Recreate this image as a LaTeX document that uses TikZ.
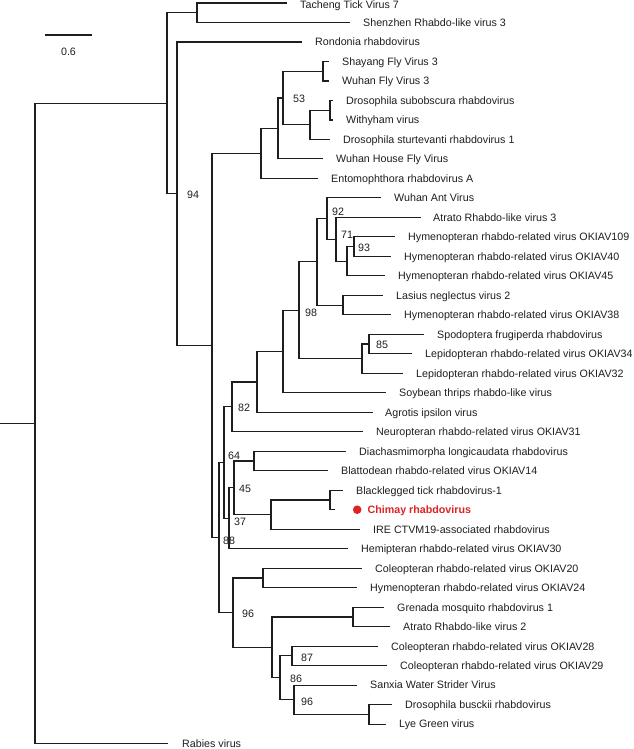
\documentclass[tikz,border=0pt]{standalone}
\usepackage{fontspec}
\setmainfont{Liberation Sans}
\usepackage{xcolor}
\usepackage{tikz}
\usetikzlibrary{positioning}
\definecolor{inkline}{RGB}{30, 30, 30}
\definecolor{chimayred}{RGB}{220, 36, 36}
\tikzset{
    br/.style   ={draw=inkline, line width=1.1pt},
    leaf/.style ={anchor=west, inner sep=0pt, text=inkline,
                  font=\fontsize{10.7}{12}\selectfont,
                  text height=7.7pt, text depth=0pt},
    hl/.style   ={leaf, text=chimayred,
                  font=\fontsize{10.7}{12}\selectfont\bfseries},
    boot/.style ={inner sep=0pt, text=inkline,
                  font=\fontsize{10.7}{12}\selectfont,
                  text height=7.7pt, text depth=0pt},
    cdot/.style ={circle, fill=chimayred, inner sep=0pt, minimum size=8.6pt}
}

\begin{document}
\begin{tikzpicture}[x=1pt, y=-1pt]
  \useasboundingbox (0,0) rectangle (633,749);

  % scale bar
  \coordinate (sb1) at (45,35);
  \coordinate (sb2) at (92,35);
  \draw[br] (sb1) -- (sb2);
  \node[boot] (sblab) at (68.5,52) {0.6};

  % branch tips
  \coordinate (tach)  at (287,3);
  \coordinate (shen)  at (350,22.5);
  \coordinate (rond)  at (302,42);
  \coordinate (shay)  at (329,61.5);
  \coordinate (wfv)   at (329,81);
  \coordinate (subo)  at (333,100.5);
  \coordinate (withy) at (333,120);
  \coordinate (stur)  at (330,139.4);
  \coordinate (whfv)  at (323,158.9);
  \coordinate (ento)  at (318,178.4);
  \coordinate (want)  at (381,197.9);
  \coordinate (atr3)  at (421,217.4);
  \coordinate (ok109) at (395,236.9);
  \coordinate (ok40)  at (391,256.4);
  \coordinate (ok45)  at (385,275.9);
  \coordinate (lasi)  at (383,295.4);
  \coordinate (ok38)  at (391,314.8);
  \coordinate (spod)  at (424,334.3);
  \coordinate (ok34)  at (412,353.8);
  \coordinate (ok32)  at (403,373.3);
  \coordinate (soyb)  at (386,392.8);
  \coordinate (agro)  at (373,412.3);
  \coordinate (neur)  at (363,431.8);
  \coordinate (diac)  at (346,451.3);
  \coordinate (blat)  at (328,470.7);
  \coordinate (blck)  at (343,490.2);
  \coordinate (chim)  at (335,509.7);
  \coordinate (ire)   at (360,529.2);
  \coordinate (hemi)  at (348,548.7);
  \coordinate (ok20)  at (362,568.2);
  \coordinate (ok24)  at (357,587.7);
  \coordinate (gren)  at (384,607.2);
  \coordinate (atr2)  at (390,626.7);
  \coordinate (ok28)  at (378,646.2);
  \coordinate (ok29)  at (387,665.6);
  \coordinate (sanx)  at (357,685.1);
  \coordinate (busc)  at (392,704.6);
  \coordinate (lye)   at (386,724.1);
  \coordinate (rab)   at (168,743.6);

  % taxon names
  \node[leaf, right=13pt of tach, yshift=-1.3pt] (ltach) {Tacheng Tick Virus 7};
  \node[leaf, right=13pt of shen]  (lshen)  {Shenzhen Rhabdo-like virus 3};
  \node[leaf, right=13pt of rond]  (lrond)  {Rondonia rhabdovirus};
  \node[leaf, right=13pt of shay]  (lshay)  {Shayang Fly Virus 3};
  \node[leaf, right=13pt of wfv]   (lwfv)   {Wuhan Fly Virus 3};
  \node[leaf, right=13pt of subo]  (lsubo)  {Drosophila subobscura rhabdovirus};
  \node[leaf, right=13pt of withy] (lwithy) {Withyham virus};
  \node[leaf, right=13pt of stur]  (lstur)  {Drosophila sturtevanti rhabdovirus 1};
  \node[leaf, right=13pt of whfv]  (lwhfv)  {Wuhan House Fly Virus};
  \node[leaf, right=13pt of ento]  (lento)  {Entomophthora rhabdovirus A};
  \node[leaf, right=13pt of want]  (lwant)  {Wuhan Ant Virus};
  \node[leaf, right=12pt of atr3]  (latr3)  {Atrato Rhabdo-like virus 3};
  \node[leaf, right=13pt of ok109] (lok109) {Hymenopteran rhabdo-related virus OKIAV109};
  \node[leaf, right=13pt of ok40]  (lok40)  {Hymenopteran rhabdo-related virus OKIAV40};
  \node[leaf, right=13pt of ok45]  (lok45)  {Hymenopteran rhabdo-related virus OKIAV45};
  \node[leaf, right=13pt of lasi]  (llasi)  {Lasius neglectus virus 2};
  \node[leaf, right=13pt of ok38]  (lok38)  {Hymenopteran rhabdo-related virus OKIAV38};
  \node[leaf, right=13pt of spod]  (lspod)  {Spodoptera frugiperda rhabdovirus};
  \node[leaf, right=13pt of ok34]  (lok34)  {Lepidopteran rhabdo-related virus OKIAV34};
  \node[leaf, right=13pt of ok32]  (lok32)  {Lepidopteran rhabdo-related virus OKIAV32};
  \node[leaf, right=13pt of soyb]  (lsoyb)  {Soybean thrips rhabdo-like virus};
  \node[leaf, right=12pt of agro]  (lagro)  {Agrotis ipsilon virus};
  \node[leaf, right=13pt of neur]  (lneur)  {Neuropteran rhabdo-related virus OKIAV31};
  \node[leaf, right=13pt of diac]  (ldiac)  {Diachasmimorpha longicaudata rhabdovirus};
  \node[leaf, right=13pt of blat]  (lblat)  {Blattodean rhabdo-related virus OKIAV14};
  \node[leaf, right=13pt of blck]  (lblck)  {Blacklegged tick rhabdovirus-1};
  \node[cdot, right=17.7pt of chim] (dchim) {};
  \node[hl,   right=5.7pt of dchim] (lchim) {Chimay rhabdovirus};
  \node[leaf, right=13pt of ire]   (lire)   {IRE CTVM19-associated rhabdovirus};
  \node[leaf, right=13pt of hemi]  (lhemi)  {Hemipteran rhabdo-related virus OKIAV30};
  \node[leaf, right=13pt of ok20]  (lok20)  {Coleopteran rhabdo-related virus OKIAV20};
  \node[leaf, right=13pt of ok24]  (lok24)  {Hymenopteran rhabdo-related virus OKIAV24};
  \node[leaf, right=13pt of gren]  (lgren)  {Grenada mosquito rhabdovirus 1};
  \node[leaf, right=13pt of atr2]  (latr2)  {Atrato Rhabdo-like virus 2};
  \node[leaf, right=13pt of ok28]  (lok28)  {Coleopteran rhabdo-related virus OKIAV28};
  \node[leaf, right=13pt of ok29]  (lok29)  {Coleopteran rhabdo-related virus OKIAV29};
  \node[leaf, right=13pt of sanx]  (lsanx)  {Sanxia Water Strider Virus};
  \node[leaf, right=13pt of busc]  (lbusc)  {Drosophila busckii rhabdovirus};
  \node[leaf, right=13pt of lye]   (llye)   {Lye Green virus};
  \node[leaf, right=14pt of rab]   (lrab)   {Rabies virus};

  % internal nodes
  \coordinate (stem)  at (0,423.5);
  \coordinate (nroot) at (35,423.5);
  \coordinate (nA)    at (167,103.3);
  \coordinate (nTS)   at (197,12.75);
  \coordinate (nB)    at (177,193.8);
  \coordinate (nC)    at (212,345.6);
  \coordinate (nD)    at (261,153.4);
  \coordinate (nE)    at (278,128.5);
  \coordinate (nF)    at (283,98);
  \coordinate (nSW)   at (323,71.25);
  \coordinate (nG)    at (310,124.8);
  \coordinate (nSub)  at (330,110.25);
  \coordinate (nI)    at (219,537.7);
  \coordinate (nR)    at (224,462.6);
  \coordinate (n82)   at (232,406.9);
  \coordinate (n257)  at (257,382);
  \coordinate (n283)  at (283,351.6);
  \coordinate (n98)   at (299,310.3);
  \coordinate (n317)  at (317,261.9);
  \coordinate (n92)   at (327,218.6);
  \coordinate (n71)   at (336,239.3);
  \coordinate (n347)  at (347,261.3);
  \coordinate (n93)   at (354,246.6);
  \coordinate (nLas)  at (343,305.1);
  \coordinate (nLep)  at (362,358.7);
  \coordinate (n85)   at (369,344);
  \coordinate (nQ)    at (229,518.3);
  \coordinate (nP)    at (234,487.8);
  \coordinate (nDB)   at (254,461);
  \coordinate (n271)  at (271,514.6);
  \coordinate (nBC)   at (330,500);
  \coordinate (nS)    at (233,612.7);
  \coordinate (n2024) at (263,578);
  \coordinate (nT)    at (272,647.4);
  \coordinate (nGA)   at (353,617);
  \coordinate (n86)   at (280,677.9);
  \coordinate (n87)   at (292,655.9);
  \coordinate (n96b)  at (294,699.8);
  \coordinate (nBL)   at (369,714.4);

  % branches, rabies as outgroup
  \draw[br] (stem) -- (nroot);
  \draw[br] (nroot) |- (nA)   (nroot) |- (rab);
  \draw[br] (nA)    |- (nTS)  (nA)    |- (nB);
  \draw[br] (nTS)   |- (tach) (nTS)   |- (shen);
  \draw[br] (nB)    |- (rond) (nB)    |- (nC);
  \draw[br] (nC)    |- (nD)   (nC)    |- (nI);
  % fly clade
  \draw[br] (nD)    |- (nE)   (nD)    |- (ento);
  \draw[br] (nE)    |- (nF)   (nE)    |- (whfv);
  \draw[br] (nF)    |- (nSW)  (nF)    |- (nG);
  \draw[br] (nSW)   |- (shay) (nSW)   |- (wfv);
  \draw[br] (nG)    |- (nSub) (nG)    |- (stur);
  \draw[br] (nSub)  |- (subo) (nSub)  |- (withy);
  % insect clade
  \draw[br] (nI)    |- (nR)   (nI)    |- (nS);
  \draw[br] (nR)    |- (n82)  (nR)    |- (nQ);
  \draw[br] (n82)   |- (n257) (n82)   |- (neur);
  \draw[br] (n257)  |- (n283) (n257)  |- (agro);
  \draw[br] (n283)  |- (n98)  (n283)  |- (soyb);
  \draw[br] (n98)   |- (n317) (n98)   |- (nLep);
  \draw[br] (n317)  |- (n92)  (n317)  |- (nLas);
  \draw[br] (n92)   |- (want) (n92)   |- (n71);
  \draw[br] (n71)   |- (atr3) (n71)   |- (n347);
  \draw[br] (n347)  |- (n93)  (n347)  |- (ok45);
  \draw[br] (n93)   |- (ok109) (n93)  |- (ok40);
  \draw[br] (nLas)  |- (lasi) (nLas)  |- (ok38);
  \draw[br] (nLep)  |- (n85)  (nLep)  |- (ok32);
  \draw[br] (n85)   |- (spod) (n85)   |- (ok34);
  % tick clade
  \draw[br] (nQ)    |- (nP)   (nQ)    |- (hemi);
  \draw[br] (nP)    |- (nDB)  (nP)    |- (n271);
  \draw[br] (nDB)   |- (diac) (nDB)   |- (blat);
  \draw[br] (n271)  |- (nBC)  (n271)  |- (ire);
  \draw[br] (nBC)   |- (blck) (nBC)   |- (chim);
  % lower clade
  \draw[br] (nS)    |- (n2024) (nS)   |- (nT);
  \draw[br] (n2024) |- (ok20) (n2024) |- (ok24);
  \draw[br] (nT)    |- (nGA)  (nT)    |- (n86);
  \draw[br] (nGA)   |- (gren) (nGA)   |- (atr2);
  \draw[br] (n86)   |- (n87)  (n86)   |- (n96b);
  \draw[br] (n87)   |- (ok28) (n87)   |- (ok29);
  \draw[br] (n96b)  |- (sanx) (n96b)  |- (nBL);
  \draw[br] (nBL)   |- (busc) (nBL)   |- (lye);

  % support values
  \node[boot] (b53)  at (299,99)  {53};
  \node[boot] (b94)  at (193,195) {94};
  \node[boot] (b92)  at (338,212) {92};
  \node[boot] (b71)  at (347,235) {71};
  \node[boot] (b93)  at (364,248) {93};
  \node[boot] (b98)  at (311,313) {98};
  \node[boot] (b85)  at (382,345) {85};
  \node[boot] (b82)  at (244,408) {82};
  \node[boot] (b64)  at (234,456) {64};
  \node[boot] (b45)  at (245,489) {45};
  \node[boot] (b37)  at (240,522) {37};
  \node[boot] (b88)  at (229,541) {88};
  \node[boot] (b96a) at (248,614) {96};
  \node[boot] (b87)  at (307,658) {87};
  \node[boot] (b86)  at (296,679) {86};
  \node[boot] (b96b) at (307,702) {96};
\end{tikzpicture}
\end{document}
